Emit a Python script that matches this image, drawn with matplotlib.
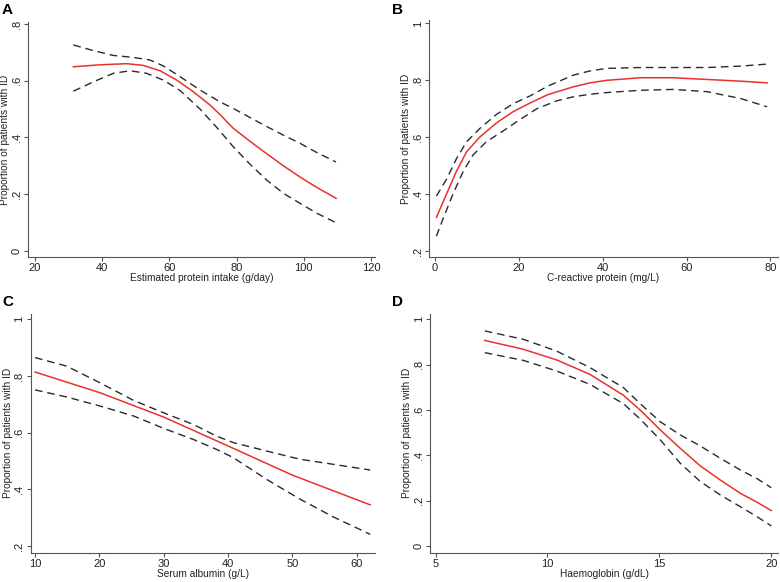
import matplotlib
matplotlib.use('Agg')
import matplotlib.pyplot as plt

plt.rcParams['font.family'] = ['Liberation Sans', 'DejaVu Sans']

# panel A - estimated protein intake
a_fx = [31.4, 39.3, 47.3, 52.2, 57.2, 62.2, 67.1, 72.1, 75.1, 79.0, 84.0, 89.0, 93.9, 98.9, 103.8, 109.6]
a_fit = [0.649, 0.656, 0.660, 0.654, 0.635, 0.602, 0.561, 0.514, 0.480, 0.432, 0.386, 0.342, 0.300, 0.260, 0.224, 0.185]
a_ux = [31.4, 37.4, 43.3, 49.3, 54.2, 58.2, 63.2, 69.1, 75.1, 79.0, 84.0, 89.0, 93.9, 98.9, 103.8, 109.6]
a_up = [0.726, 0.706, 0.689, 0.682, 0.673, 0.652, 0.614, 0.567, 0.525, 0.502, 0.470, 0.438, 0.408, 0.379, 0.347, 0.313]
a_lx = [31.4, 37.4, 43.3, 48.3, 53.2, 58.2, 63.2, 69.1, 74.1, 79.0, 84.0, 89.0, 93.9, 98.9, 103.8, 109.6]
a_lo = [0.563, 0.596, 0.626, 0.635, 0.626, 0.602, 0.565, 0.500, 0.435, 0.367, 0.305, 0.249, 0.203, 0.167, 0.133, 0.099]

# panel B - C-reactive protein
b_fx = [0.4, 2.8, 5.2, 7.6, 10.7, 14.7, 18.7, 22.7, 27.0, 33.0, 37.0, 41.0, 49.0, 56.9, 64.9, 72.9, 79.2]
b_fit = [0.318, 0.400, 0.481, 0.549, 0.600, 0.650, 0.690, 0.720, 0.750, 0.777, 0.791, 0.800, 0.809, 0.809, 0.803, 0.797, 0.791]
b_up = [0.393, 0.452, 0.525, 0.584, 0.630, 0.680, 0.718, 0.745, 0.780, 0.818, 0.833, 0.842, 0.845, 0.845, 0.845, 0.850, 0.857]
b_lx = [0.4, 2.0, 4.4, 6.8, 9.1, 12.3, 16.3, 20.3, 24.3, 29.1, 33.0, 37.0, 41.0, 49.0, 56.9, 64.9, 72.9, 79.2]
b_lo = [0.252, 0.314, 0.402, 0.480, 0.537, 0.584, 0.622, 0.662, 0.700, 0.728, 0.742, 0.751, 0.757, 0.765, 0.768, 0.760, 0.736, 0.707]

# panel C - serum albumin
c_fx = [10.0, 20.1, 30.0, 40.0, 50.0, 62.1]
c_fit = [0.814, 0.741, 0.655, 0.553, 0.450, 0.345]
c_x = [10.0, 14.9, 20.1, 25.3, 30.0, 34.6, 38.2, 40.8, 46.0, 51.2, 56.4, 62.1]
c_up = [0.865, 0.835, 0.776, 0.714, 0.670, 0.629, 0.588, 0.565, 0.535, 0.506, 0.488, 0.468]
c_lo = [0.751, 0.726, 0.694, 0.659, 0.615, 0.576, 0.541, 0.512, 0.435, 0.365, 0.302, 0.241]

# panel D - haemoglobin
d_x = [7.2, 8.92, 10.41, 11.9, 13.39, 14.14, 15.04, 15.93, 16.83, 17.72, 18.62, 19.36, 20.0]
d_fit = [0.907, 0.868, 0.821, 0.757, 0.665, 0.600, 0.512, 0.431, 0.353, 0.291, 0.232, 0.193, 0.156]
d_up = [0.949, 0.912, 0.860, 0.787, 0.699, 0.628, 0.548, 0.490, 0.441, 0.387, 0.335, 0.297, 0.257]
d_lo = [0.853, 0.819, 0.772, 0.713, 0.628, 0.560, 0.468, 0.365, 0.284, 0.225, 0.173, 0.129, 0.088]

W, H = 780, 582
fig = plt.figure(figsize=(W / 100, H / 100), dpi=100)

red = '#e8322b'
blk = '#2a2a2a'
gray = '#555555'


def panel(box, letter, lx, fx, fit, ux, up, lox, lo, xlim, ylim, xticks, yticks, ylabels, xlabel):
    left, right, top, bottom = box
    ax = fig.add_axes([left / W, 1 - bottom / H, (right - left) / W, (bottom - top) / H])
    ax.plot(ux, up, color=blk, lw=1.0, ls=(0, (5.5, 3.5)))
    ax.plot(lox, lo, color=blk, lw=1.0, ls=(0, (5.5, 3.5)))
    ax.plot(fx, fit, color=red, lw=1.1)
    ax.set_xlim(*xlim)
    ax.set_ylim(*ylim)
    ax.set_xticks(xticks)
    ax.set_yticks(yticks)
    ax.set_yticklabels(ylabels, rotation=90, va='center')
    for s in ['top', 'right']:
        ax.spines[s].set_visible(False)
    for s in ['left', 'bottom']:
        ax.spines[s].set_color(gray)
        ax.spines[s].set_linewidth(0.8)
    ax.tick_params(colors=gray, labelcolor='#222222', labelsize=8, length=3, width=0.8, pad=1.5)
    ax.set_xlabel(xlabel, fontsize=7.3, color='#222222', labelpad=0)
    ax.set_ylabel('Proportion of patients with ID', fontsize=7.3, color='#222222', labelpad=1)
    fig.text(lx[0] / W, 1 - lx[1] / H, letter, fontsize=11, fontweight='bold', va='top', ha='left')
    return ax


panel((28, 375, 22, 257), 'A', (2, 3), a_fx, a_fit, a_ux, a_up, a_lx, a_lo,
      (17.9, 121.2), (-0.022, 0.807), [20, 40, 60, 80, 100, 120],
      [0, 0.2, 0.4, 0.6, 0.8], ['0', '.2', '.4', '.6', '.8'],
      'Estimated protein intake (g/day)')

panel((429, 778, 20, 257), 'B', (392, 3), b_fx, b_fit, b_fx, b_up, b_lx, b_lo,
      (-1.36, 81.8), (0.179, 1.012), [0, 20, 40, 60, 80],
      [0.2, 0.4, 0.6, 0.8, 1.0], ['.2', '.4', '.6', '.8', '1'],
      'C-reactive protein (mg/L)')

panel((30.7, 375, 313.7, 552.7), 'C', (2, 295), c_fx, c_fit, c_x, c_up, c_x, c_lo,
      (9.33, 62.85), (0.176, 1.02), [10, 20, 30, 40, 50, 60],
      [0.2, 0.4, 0.6, 0.8, 1.0], ['.2', '.4', '.6', '.8', '1'],
      'Serum albumin (g/L)')

panel((430, 778, 313.7, 552.7), 'D', (392, 295), d_x, d_fit, d_x, d_up, d_x, d_lo,
      (4.75, 20.3), (-0.03, 1.025), [5, 10, 15, 20],
      [0, 0.2, 0.4, 0.6, 0.8, 1.0], ['0', '.2', '.4', '.6', '.8', '1'],
      'Haemoglobin (g/dL)')

fig.savefig('out.png', dpi=100)
